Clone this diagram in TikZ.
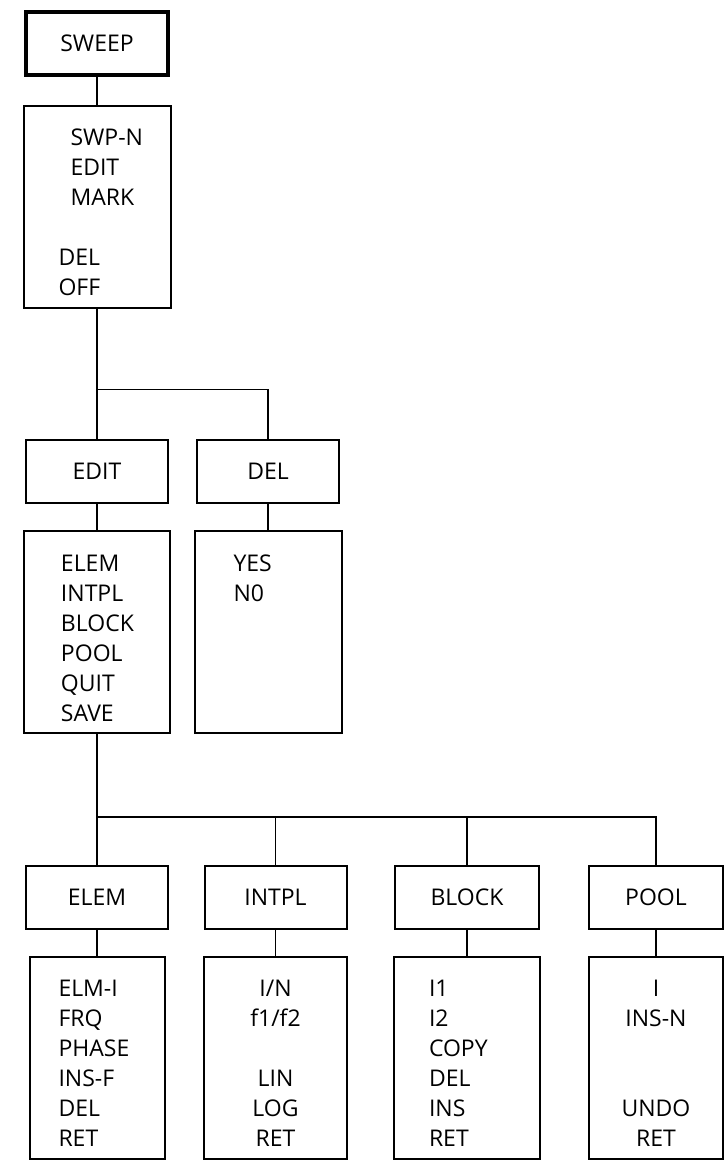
\documentclass[tikz,border=0pt]{standalone}
\usepackage{fontspec}
\setmainfont{Open Sans}
\usetikzlibrary{positioning,calc}

\begin{document}
\begin{tikzpicture}[
    box/.style={draw, line width=1pt, outer sep=0pt, minimum width=71pt, minimum height=31.5pt,
        font=\fontsize{11.5}{15}\selectfont},
    menu/.style={draw, line width=1pt, outer sep=0pt, text width=#1, align=left, inner ysep=0pt,
        text height=20pt, text depth=81pt, font=\fontsize{11.5}{15}\selectfont},
    link/.style={line width=0.9pt},
    node distance=14pt
]
\useasboundingbox (0,0) rectangle (364pt,-584.5pt);

\node[box, line width=2pt] (sweep) at (48.5pt,-21.5pt) {SWEEP};
\node[menu=38.5pt, inner xsep=17.5pt, below=15.5pt of sweep] (swm)
    {\hspace*{6pt}\mbox{SWP-N}\\\hspace*{6pt}EDIT\\\hspace*{6pt}MARK\\[15pt]DEL\\OFF};

\node[box, below=66.25pt of swm] (edit) {EDIT};
\node[box, right=14.5pt of edit] (del) {DEL};
\node[menu=36pt, inner xsep=18.5pt, below=of edit] (edm) {ELEM\\INTPL\\BLOCK\\POOL\\QUIT\\SAVE};
\node[menu=34.5pt, inner xsep=19.5pt, below=of del] (dlm) {YES\\N0};

\node[box, below=66.25pt of edm] (elem) {ELEM};
\node[box, right=18.25pt of elem] (intpl) {INTPL};
\node[box, right=24.25pt of intpl, minimum width=72pt] (block) {BLOCK};
\node[box, right=25pt of block, minimum width=67pt] (pool) {POOL};

\node[menu=38.5pt, inner xsep=14.5pt, below=of elem] (elm) {\mbox{ELM-I}\\FRQ\\PHASE\\\mbox{INS-F}\\DEL\\RET};
\node[menu=55.5pt, inner xsep=8pt, align=center, below=of intpl] (inm) {I/N\\f1/f2\\[15pt]LIN\\LOG\\RET};
\node[menu=38pt, inner xsep=17.5pt, below=of block] (blm) {I1\\I2\\COPY\\DEL\\INS\\RET};
\node[menu=51pt, inner xsep=8pt, align=center, below=of pool] (pom) {I\\\mbox{INS-N}\\[30pt]UNDO\\RET};

% tree connectors
\draw[link] (sweep) -- (swm);
\coordinate (j1) at ($(swm.south)+(0,-41pt)$);
\draw[link] (swm) -- (j1) -| (del);
\draw[link] (j1) -- (edit);
\draw[link] (edit) -- (edm);
\draw[link] (del) -- (dlm);

\coordinate (j2) at ($(edm.south)+(0,-42pt)$);
\draw[link] (edm) -- (j2) -| (pool);
\foreach \n in {elem,intpl,block}
    \draw[link] (j2 -| \n.north) -- (\n);
\foreach \b/\m in {elem/elm,intpl/inm,block/blm,pool/pom}
    \draw[link] (\b) -- (\m);
\end{tikzpicture}
\end{document}
